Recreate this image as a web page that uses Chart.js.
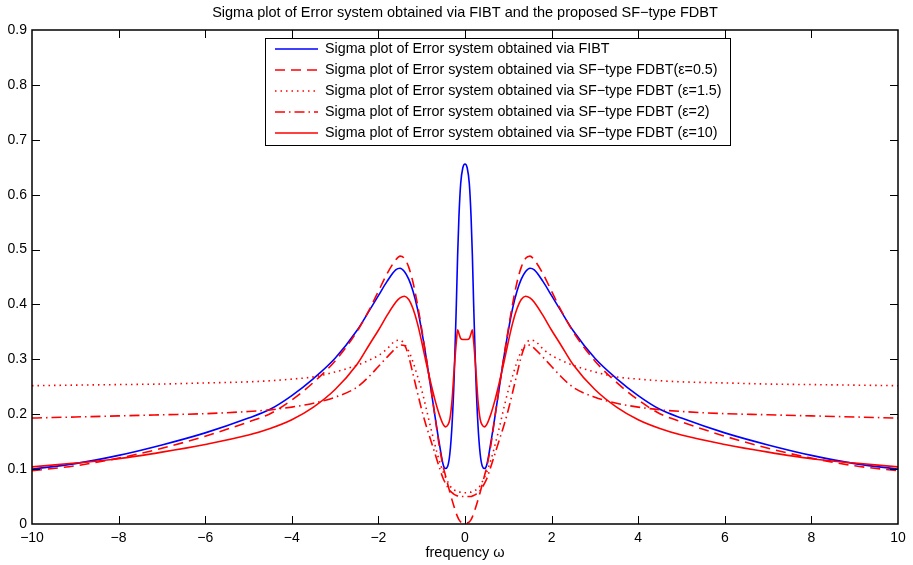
<!DOCTYPE html>
<html><head><meta charset="utf-8">
<script src="https://cdn.jsdelivr.net/npm/chart.js@4.4.1/dist/chart.umd.min.js"></script>
<style>html,body{margin:0;padding:0;background:#fff;}canvas{display:block;}</style>
</head><body>
<canvas id="c" width="913" height="565"></canvas>
<script>
const omega = [-10,-9,-8,-7,-6,-5,-4.5,-4,-3.5,-3,-2.5,-2.2,-2,-1.8,-1.6,-1.5,-1.4,-1.3,-1.2,-1.1,-1,-0.9,-0.8,-0.7,-0.6,-0.5,-0.45,-0.4,-0.35,-0.3,-0.25,-0.2,-0.17,-0.14,-0.1,-0.05,0,0.05,0.1,0.14,0.17,0.2,0.25,0.3,0.35,0.4,0.45,0.5,0.6,0.7,0.8,0.9,1,1.1,1.2,1.3,1.4,1.5,1.6,1.8,2,2.2,2.5,3,3.5,4,4.5,5,6,7,8,9,10];

const sigmaFIBT = [0.100,0.110,0.125,0.144,0.166,0.193,0.209,0.234,0.265,0.302,0.352,0.390,0.416,0.442,0.463,0.466,0.460,0.446,0.424,0.393,0.352,0.305,0.253,0.200,0.150,0.107,0.101,0.105,0.128,0.180,0.268,0.400,0.490,0.560,0.620,0.649,0.656,
  0.649,0.620,0.560,0.490,0.400,0.268,0.180,0.128,0.105,0.101,0.107,0.150,0.200,0.253,0.305,0.352,0.393,0.424,0.446,0.460,0.466,0.463,0.442,0.416,0.390,0.352,0.302,0.265,0.234,0.209,0.193,0.166,0.144,0.125,0.110,0.100];

const sigmaEps05 = [0.097,0.106,0.120,0.138,0.160,0.186,0.201,0.226,0.258,0.297,0.350,0.392,0.424,0.456,0.481,0.488,0.484,0.468,0.440,0.401,0.355,0.305,0.254,0.200,0.145,0.103,0.088,0.073,0.058,0.044,0.031,0.019,0.013,0.008,0.004,0.002,0.001,
  0.002,0.004,0.008,0.013,0.019,0.031,0.044,0.058,0.073,0.088,0.103,0.145,0.200,0.254,0.305,0.355,0.401,0.440,0.468,0.484,0.488,0.481,0.456,0.424,0.392,0.350,0.297,0.258,0.226,0.201,0.186,0.160,0.138,0.120,0.106,0.097];

const sigmaEps15 = [0.252,0.253,0.254,0.255,0.257,0.259,0.261,0.264,0.268,0.277,0.289,0.299,0.307,0.319,0.334,0.335,0.328,0.315,0.295,0.270,0.244,0.212,0.178,0.146,0.117,0.094,0.085,0.077,0.070,0.065,0.062,0.060,0.059,0.058,0.058,0.057,0.057,
  0.057,0.058,0.058,0.059,0.060,0.062,0.065,0.070,0.077,0.085,0.094,0.117,0.146,0.178,0.212,0.244,0.270,0.295,0.315,0.328,0.335,0.334,0.319,0.307,0.299,0.289,0.277,0.268,0.264,0.261,0.259,0.257,0.255,0.254,0.253,0.252];

const sigmaEps2 = [0.193,0.195,0.197,0.199,0.201,0.205,0.208,0.213,0.220,0.231,0.249,0.270,0.287,0.304,0.320,0.326,0.325,0.305,0.273,0.240,0.208,0.180,0.155,0.130,0.105,0.082,0.074,0.067,0.061,0.057,0.054,0.052,0.051,0.050,0.050,0.050,0.050,
  0.050,0.050,0.050,0.051,0.052,0.054,0.057,0.061,0.067,0.074,0.082,0.105,0.130,0.155,0.180,0.208,0.240,0.273,0.305,0.325,0.326,0.320,0.304,0.287,0.270,0.249,0.231,0.220,0.213,0.208,0.205,0.201,0.199,0.197,0.195,0.193];

const sigmaEps10 = [0.104,0.111,0.119,0.131,0.145,0.162,0.174,0.190,0.213,0.245,0.290,0.328,0.353,0.380,0.404,0.412,0.415,0.409,0.392,0.366,0.332,0.295,0.260,0.228,0.201,0.181,0.177,0.180,0.191,0.225,0.282,0.332,0.354,0.347,0.338,0.336,0.336,
  0.336,0.338,0.347,0.354,0.332,0.282,0.225,0.191,0.180,0.177,0.181,0.201,0.228,0.260,0.295,0.332,0.366,0.392,0.409,0.415,0.412,0.404,0.380,0.353,0.328,0.290,0.245,0.213,0.190,0.174,0.162,0.145,0.131,0.119,0.111,0.104];

const seriesLabels = [
  'Sigma plot of Error system obtained via FIBT',
  'Sigma plot of Error system obtained via SF\u2212type FDBT(\u03b5=0.5)',
  'Sigma plot of Error system obtained via SF\u2212type FDBT (\u03b5=1.5)',
  'Sigma plot of Error system obtained via SF\u2212type FDBT (\u03b5=2)',
  'Sigma plot of Error system obtained via SF\u2212type FDBT (\u03b5=10)'
];
const chartTitle = 'Sigma plot of Error system obtained via FIBT and the proposed SF\u2212type FDBT';
const xAxisTitle = 'frequency \u03c9';

const FONT = "'Liberation Sans', Arial, Helvetica, sans-serif";
const fmt = v => { const r = Math.round(v * 10) / 10; return (r < 0 ? '\u2212' : '') + String(Math.abs(r)); };
const pts = arr => omega.map((w, i) => ({ x: w, y: arr[i] }));

const common = { pointRadius: 0, fill: false, borderWidth: 1.6, cubicInterpolationMode: 'monotone' };
const datasets = [
  Object.assign({ label: seriesLabels[0], data: pts(sigmaFIBT), borderColor: '#0000ff', borderDash: [], order: 4 }, common),
  Object.assign({ label: seriesLabels[1], data: pts(sigmaEps05), borderColor: '#ff0000', borderDash: [10, 6], order: 3 }, common),
  Object.assign({ label: seriesLabels[2], data: pts(sigmaEps15), borderColor: '#ff0000', borderDash: [1.5, 4], order: 2 }, common),
  Object.assign({ label: seriesLabels[3], data: pts(sigmaEps2), borderColor: '#ff0000', borderDash: [10, 4, 1.5, 4], order: 1 }, common),
  Object.assign({ label: seriesLabels[4], data: pts(sigmaEps10), borderColor: '#ff0000', borderDash: [], order: 0 }, common)
];

const framePlugin = {
  id: 'frame',
  afterDatasetsDraw(chart) {
    const { ctx, chartArea: a, scales: { x, y } } = chart;
    ctx.save();
    ctx.strokeStyle = '#000';
    ctx.lineWidth = 1;
    ctx.beginPath();
    x.ticks.forEach(t => {
      const px = Math.round(x.getPixelForValue(t.value)) + 0.5;
      if (px <= a.left + 1 || px >= a.right - 1) return;
      ctx.moveTo(px, a.bottom); ctx.lineTo(px, a.bottom - 8);
      ctx.moveTo(px, a.top); ctx.lineTo(px, a.top + 8);
    });
    y.ticks.forEach(t => {
      const py = Math.round(y.getPixelForValue(t.value)) + 0.5;
      if (py <= a.top + 1 || py >= a.bottom - 1) return;
      ctx.moveTo(a.left, py); ctx.lineTo(a.left + 8, py);
      ctx.moveTo(a.right, py); ctx.lineTo(a.right - 8, py);
    });
    ctx.stroke();
    ctx.lineWidth = 1.5;
    ctx.strokeRect(a.left, a.top, a.right - a.left, a.bottom - a.top);
    ctx.restore();
  }
};

const legendPlugin = {
  id: 'boxLegend',
  afterDraw(chart) {
    const ctx = chart.ctx;
    const x0 = 265, y0 = 38, w = 465, h = 107;
    ctx.save();
    ctx.fillStyle = '#fff';
    ctx.fillRect(x0, y0, w, h);
    ctx.strokeStyle = '#000';
    ctx.lineWidth = 1;
    ctx.strokeRect(x0 + 0.5, y0 + 0.5, w, h);
    chart.data.datasets.forEach((ds, i) => {
      const cy = y0 + 11 + i * 21;
      ctx.strokeStyle = ds.borderColor;
      ctx.lineWidth = ds.borderWidth;
      ctx.setLineDash(ds.borderDash || []);
      ctx.beginPath();
      ctx.moveTo(x0 + 10, cy); ctx.lineTo(x0 + 53, cy);
      ctx.stroke();
      ctx.setLineDash([]);
      ctx.fillStyle = '#000';
      ctx.font = '14.3px ' + FONT;
      ctx.textBaseline = 'middle';
      ctx.textAlign = 'left';
      ctx.fillText(ds.label, x0 + 60, cy + 0.5);
    });
    ctx.restore();
  }
};

new Chart(document.getElementById('c'), {
  type: 'line',
  data: { datasets },
  plugins: [framePlugin, legendPlugin],
  options: {
    responsive: false, animation: false, devicePixelRatio: 1,
    layout: { padding: { left: 0, right: 15, top: 0, bottom: 0 } },
    plugins: {
      legend: { display: false },
      tooltip: { enabled: false },
      title: { display: true, text: chartTitle, fullSize: false, color: '#000',
        font: { family: FONT, size: 14.5, weight: 'normal', lineHeight: 1.2 }, padding: { top: 4.5, bottom: 8.1 } }
    },
    scales: {
      x: { type: 'linear', min: -10, max: 10,
        ticks: { stepSize: 2, callback: fmt, color: '#000', font: { family: FONT, size: 14 }, padding: 6, maxRotation: 0, autoSkip: false },
        grid: { display: false, drawTicks: false }, border: { display: false },
        title: { display: true, text: xAxisTitle, color: '#000', font: { family: FONT, size: 14.5, lineHeight: 1.2 }, padding: { top: 0, bottom: 3.3 } },
        afterFit(s) { s.height = 41; } },
      y: { type: 'linear', min: 0, max: 0.9,
        ticks: { stepSize: 0.1, callback: fmt, color: '#000', font: { family: FONT, size: 14 }, padding: 5, autoSkip: false },
        grid: { display: false, drawTicks: false }, border: { display: false },
        afterFit(s) { s.width = 32; } }
    }
  }
});
</script>
</body></html>
